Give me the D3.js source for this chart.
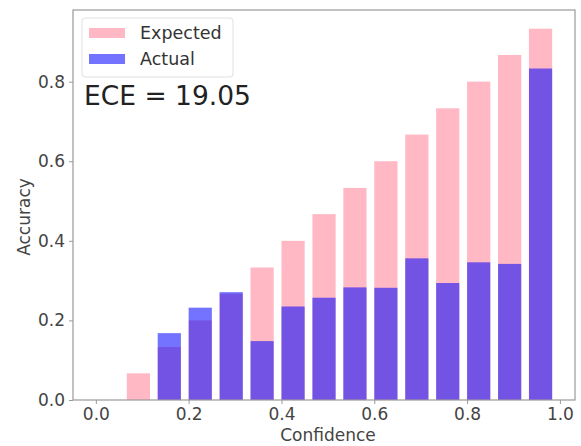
<!DOCTYPE html>
<html lang="en">
<head>
<meta charset="utf-8">
<style>
html, body {
    margin: 0;
    padding: 0;
    background: white;
}
svg text {
    font-family: "DejaVu Sans", sans-serif;
}
</style>
</head>
<body>
<div id="stage"></div>

<script src="https://cdn.jsdelivr.net/npm/d3@7/dist/d3.min.js"></script>
<script>

// left edge of each confidence bin (15 bins)
var binLefts = [0, 0.0667, 0.1333, 0.2, 0.2667, 0.3333, 0.4, 0.4667, 0.5333, 0.6, 0.6667, 0.7333, 0.8, 0.8667, 0.9333];
var expected = [0, 0.067, 0.133, 0.2, 0.267, 0.333, 0.4, 0.467, 0.533, 0.6, 0.667, 0.733, 0.8, 0.867, 0.933];
var actual   = [0, 0, 0.168, 0.232, 0.271, 0.148, 0.235, 0.257, 0.283, 0.282, 0.356, 0.294, 0.346, 0.342, 0.833];
var binWidth = 0.05;
var xTicks = [0, 0.2, 0.4, 0.6, 0.8, 1.0];
var yTicks = [0, 0.2, 0.4, 0.6, 0.8];
var eceText = "ECE = 19.05";

var W = 581, H = 446;
// plot area (note: "top" is a reserved window global, so use p* names)
var pLeft = 73, pRight = 575, pTop = 10, pBottom = 400;

var pink = "#ffb8c4";
var blue = "#0000ff";

var svg = d3.select("#stage").append("svg")
    .attr("width", W)
    .attr("height", H);

var x = d3.scaleLinear()
    .domain([-0.0492, 1.0325])
    .range([pLeft, pRight]);

var y = d3.scaleLinear()
    .domain([0, 0.98])
    .range([pBottom, pTop]);

var rows = binLefts.map(function(b, i){ return {x: b, e: expected[i], a: actual[i]}; });

// expected bars
svg.append("g").selectAll("rect")
    .data(rows)
    .enter()
    .append("rect")
    .attr("x", function(d){ return x(d.x); })
    .attr("width", function(d){ return x(d.x + binWidth) - x(d.x); })
    .attr("y", function(d){ return y(d.e); })
    .attr("height", function(d){ return y(0) - y(d.e); })
    .attr("fill", pink);

// actual bars, translucent on top
svg.append("g").selectAll("rect")
    .data(rows)
    .enter()
    .append("rect")
    .attr("x", function(d){ return x(d.x); })
    .attr("width", function(d){ return x(d.x + binWidth) - x(d.x); })
    .attr("y", function(d){ return y(d.a); })
    .attr("height", function(d){ return y(0) - y(d.a); })
    .attr("fill", blue)
    .attr("fill-opacity", 0.55);

// axes
var xAxis = d3.axisBottom(x).tickValues(xTicks).tickFormat(d3.format(".1f")).tickSizeOuter(0).tickSize(4).tickPadding(4);
var yAxis = d3.axisLeft(y).tickValues(yTicks).tickFormat(d3.format(".1f")).tickSizeOuter(0).tickSize(4).tickPadding(4);

var gx = svg.append("g")
    .attr("transform", "translate(0," + pBottom + ")")
    .call(xAxis);
var gy = svg.append("g")
    .attr("transform", "translate(" + pLeft + ",0)")
    .call(yAxis);

[gx, gy].forEach(function(g){
    g.select(".domain").remove();
    g.selectAll("line").attr("stroke", "#999");
    g.selectAll("text")
        .attr("fill", "#444")
        .style("font-size", "17px");
});

// frame
svg.append("rect")
    .attr("x", pLeft)
    .attr("y", pTop)
    .attr("width", pRight - pLeft)
    .attr("height", pBottom - pTop)
    .attr("fill", "none")
    .attr("stroke", "#999")
    .attr("stroke-width", 1.2);

// axis titles
svg.append("text")
    .attr("x", (pLeft + pRight) / 2 + 4)
    .attr("y", 441)
    .attr("text-anchor", "middle")
    .attr("fill", "#444")
    .style("font-size", "17px")
    .text("Confidence");

svg.append("text")
    .attr("transform", "translate(30," + ((pTop + pBottom) / 2 + 12) + ") rotate(-90)")
    .attr("text-anchor", "middle")
    .attr("fill", "#444")
    .style("font-size", "17px")
    .text("Accuracy");

// legend
var legend = svg.append("g");
legend.append("rect")
    .attr("x", 82).attr("y", 18)
    .attr("width", 151).attr("height", 59)
    .attr("rx", 3)
    .attr("fill", "white")
    .attr("fill-opacity", 0.8)
    .attr("stroke", "#e0e0e0");

var legendItems = [
    {label: "Expected", color: pink, op: 1, cy: 33},
    {label: "Actual", color: blue, op: 0.55, cy: 59}
];

legend.selectAll(".item")
    .data(legendItems)
    .enter()
    .append("rect")
    .attr("x", 89)
    .attr("y", function(d){ return d.cy - 5; })
    .attr("width", 36)
    .attr("height", 10)
    .attr("fill", function(d){ return d.color; })
    .attr("fill-opacity", function(d){ return d.op; });

legend.selectAll(".lbl")
    .data(legendItems)
    .enter()
    .append("text")
    .attr("x", 140)
    .attr("y", function(d){ return d.cy + 6; })
    .attr("fill", "#333")
    .style("font-size", "17.5px")
    .text(function(d){ return d.label; });

svg.append("text")
    .attr("x", 84)
    .attr("y", 105)
    .attr("fill", "#222")
    .style("font-size", "26.5px")
    .text(eceText);

</script>
</body>
</html>
